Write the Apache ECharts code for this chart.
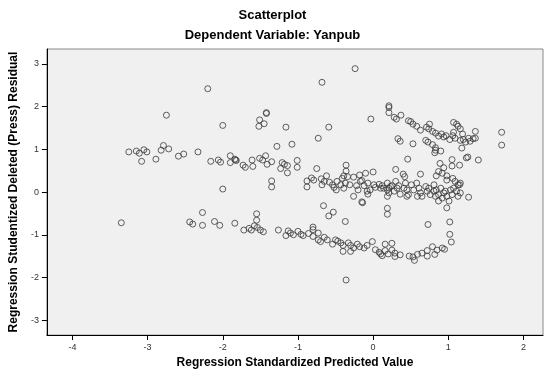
<!DOCTYPE html>
<html lang="en">
<head>
    <meta charset="UTF-8">
    <title>Scatterplot</title>
    <script src="https://cdn.jsdelivr.net/npm/echarts@6/dist/echarts.min.js"></script>
    <style>
        html, body { margin: 0; padding: 0; background: #fff; }
        #box { width: 545px; height: 374px; }
    </style>
</head>
<body>
    <div id="box"></div>
    <script>
        // tick values of both axes
        var xTicks = [-4, -3, -2, -1, 0, 1, 2];
        var yTicks = [-3, -2, -1, 0, 1, 2, 3];

        // points: [predicted, residual]
        var upperSparse = [
            [-0.24, 2.89], [-0.68, 2.57], [-2.20, 2.42], [-2.75, 1.80], [-1.42, 1.86], [-1.42, 1.84],
            [-1.51, 1.69], [-1.45, 1.60], [-1.52, 1.54], [-2.00, 1.56], [-1.16, 1.52], [-0.59, 1.52],
            [-0.03, 1.71], [-0.73, 1.26], [-1.28, 1.07], [-1.08, 1.12]
        ];
        var leftCluster = [
            [-3.25, 0.94], [-3.15, 0.96], [-3.11, 0.91], [-3.05, 0.99], [-3.01, 0.94], [-3.08, 0.72],
            [-2.89, 0.77], [-2.82, 0.98], [-2.79, 1.09], [-2.72, 1.01], [-2.59, 0.84], [-2.52, 0.89],
            [-2.33, 0.94], [-2.16, 0.72], [-2.06, 0.75], [-2.03, 0.70]
        ];
        var upperBand = [
            [-1.90, 0.85], [-1.90, 0.69], [-1.84, 0.77], [-1.83, 0.75], [-1.82, 0.74], [-1.73, 0.63],
            [-1.70, 0.58], [-1.60, 0.60], [-1.61, 0.75], [-1.51, 0.79], [-1.47, 0.75], [-1.43, 0.85],
            [-1.41, 0.65], [-1.35, 0.71], [-1.21, 0.69], [-1.23, 0.55], [-1.18, 0.65], [-1.14, 0.62],
            [-1.14, 0.45], [-1.01, 0.74], [-1.01, 0.58], [-2.00, 0.07], [-1.35, 0.26], [-1.35, 0.12],
            [-0.75, 0.55], [-0.36, 0.63], [-0.36, 0.49], [-0.88, 0.26], [-0.88, 0.12], [-0.10, 0.44],
            [0.00, 0.47], [-0.62, 0.38], [-0.39, 0.38]
        ];
        var zeroBand = [
            [-0.82, 0.33], [-0.79, 0.28], [-0.69, 0.31], [-0.68, 0.17], [-0.65, 0.25], [-0.58, 0.23],
            [-0.54, 0.17], [-0.52, 0.11], [-0.49, 0.05], [-0.48, 0.25], [-0.43, 0.17], [-0.41, 0.32],
            [-0.39, 0.09], [-0.37, 0.21], [-0.34, 0.36], [-0.31, 0.17], [-0.26, 0.35], [-0.26, -0.10],
            [-0.22, 0.15], [-0.20, 0.05], [-0.18, 0.40], [-0.17, 0.25], [-0.15, 0.27], [-0.12, 0.15],
            [-0.07, 0.21], [-0.04, 0.05], [-0.07, -0.05], [-0.08, 0.02], [0.01, 0.17], [0.03, 0.11],
            [0.08, 0.18], [0.10, 0.09], [0.12, 0.15], [0.19, 0.05], [0.19, -0.10], [0.23, 0.13],
            [-0.15, -0.23], [0.14, 0.09], [0.19, 0.21], [0.21, 0.09], [0.21, -0.02], [0.25, 0.15],
            [0.28, 0.02], [0.30, 0.25], [0.32, 0.09], [0.34, 0.15], [0.36, -0.05], [0.41, 0.09],
            [0.43, 0.21], [0.45, 0.05], [0.45, -0.10], [0.47, -0.06], [0.51, 0.17], [0.54, 0.05],
            [0.58, 0.21], [0.59, -0.10], [0.61, 0.09], [0.63, -0.02], [0.65, -0.10], [0.70, 0.13],
            [0.72, 0.02], [0.74, 0.09], [0.76, -0.06], [0.81, 0.17], [0.81, 0.02], [0.83, -0.10],
            [0.84, 0.05], [0.87, -0.06], [0.87, -0.21], [0.90, 0.09], [0.92, -0.14], [0.94, -0.02],
            [0.96, 0.02], [0.98, -0.10], [1.01, -0.21], [1.03, 0.05], [1.05, -0.06], [1.07, 0.09],
            [1.11, 0.02], [1.13, -0.10], [1.15, 0.17], [1.16, -0.02], [1.27, -0.12]
        ];
        var rightBand = [
            [0.21, 2.02], [0.21, 1.86], [0.21, 1.98], [0.28, 1.75], [0.31, 1.71], [0.37, 1.80],
            [0.47, 1.67], [0.50, 1.65], [0.53, 1.59], [0.58, 1.54], [0.63, 1.45], [0.71, 1.52],
            [0.75, 1.59], [0.74, 1.48], [0.79, 1.42], [0.83, 1.38], [0.87, 1.31], [0.91, 1.36],
            [0.94, 1.29], [0.97, 1.32], [1.02, 1.23], [1.07, 1.63], [1.11, 1.59], [1.13, 1.54],
            [1.07, 1.40], [1.06, 1.32], [1.09, 1.26], [1.16, 1.48], [1.19, 1.36], [1.16, 1.21],
            [1.20, 1.23], [1.23, 1.17], [1.27, 1.26], [1.29, 1.19], [1.33, 1.25], [1.36, 1.42],
            [1.36, 1.26], [1.18, 1.03], [1.24, 0.80], [1.26, 0.82], [1.40, 0.75], [1.71, 1.40],
            [1.71, 1.10], [0.33, 1.25], [0.36, 1.19], [0.53, 1.13], [0.70, 1.21], [0.73, 1.17],
            [0.79, 1.11], [0.83, 1.04], [0.82, 0.92], [0.83, 0.98], [0.90, 0.96], [0.46, 0.77],
            [0.30, 0.53], [0.40, 0.42], [0.42, 0.36], [0.63, 0.42], [1.05, 0.76], [1.05, 0.61],
            [1.15, 0.63], [0.89, 0.67], [0.94, 0.57], [0.87, 0.48], [0.84, 0.38], [0.92, 0.44],
            [0.98, 0.38], [0.98, 0.28], [1.06, 0.32], [1.09, 0.25], [1.13, 0.17], [1.16, 0.21]
        ];
        var lowerLeft = [
            [-3.35, -0.72], [-2.44, -0.70], [-2.40, -0.75], [-2.27, -0.48], [-2.27, -0.78], [-2.11, -0.69],
            [-2.04, -0.78], [-1.84, -0.73], [-1.72, -0.89], [-1.65, -0.85], [-1.62, -0.89], [-1.58, -0.79],
            [-1.55, -0.51], [-1.55, -0.66], [-1.54, -0.83], [-1.50, -0.89], [-1.46, -0.93], [-1.26, -0.89]
        ];
        var lowerBand = [
            [-1.16, -1.02], [-1.13, -0.91], [-1.10, -0.96], [-1.06, -1.00], [-1.00, -0.92], [-0.96, -0.99],
            [-0.93, -1.02], [-0.86, -0.97], [-0.80, -0.88], [-0.80, -1.04], [-0.73, -0.96], [-0.73, -1.12],
            [-0.70, -1.16], [-0.65, -1.06], [-0.61, -1.12], [-0.54, -1.22], [-0.50, -1.12], [-0.47, -1.15],
            [-0.43, -1.19], [-0.40, -1.25], [-0.40, -1.39], [-0.33, -1.19], [-0.30, -1.25], [-0.30, -1.39],
            [-0.26, -1.31], [-0.21, -1.22], [-0.18, -1.28], [-0.12, -1.31], [-0.08, -1.25], [-0.01, -1.16],
            [0.03, -1.35], [0.08, -1.41], [0.10, -1.45], [0.12, -1.49], [0.16, -1.22], [0.16, -1.37],
            [0.20, -1.45], [0.25, -1.20], [0.25, -1.36], [0.29, -1.51], [0.29, -1.43], [0.36, -1.47],
            [0.48, -1.50], [0.53, -1.52], [0.55, -1.60], [0.59, -1.46], [0.65, -1.43], [0.72, -1.50],
            [0.72, -1.37], [0.79, -1.28], [0.82, -1.46], [0.85, -1.36], [0.92, -1.31], [0.95, -1.34],
            [0.73, -0.76], [0.98, -0.37], [1.02, -0.70], [1.02, -0.99], [1.04, -1.17], [-0.36, -2.06]
        ];
        var midLower = [
            [-0.66, -0.32], [-0.53, -0.47], [-0.59, -0.56], [-0.37, -0.69], [0.19, -0.38], [0.19, -0.52],
            [-0.80, -0.82], [-0.14, -0.25]
        ];

        var allPoints = [].concat(upperSparse, leftCluster, upperBand, zeroBand,
            rightBand, lowerLeft, lowerBand, midLower);

        var myChart = echarts.init(document.getElementById('box'));
        var font = '"Liberation Sans", Arial, sans-serif';
        var option = {
            backgroundColor: '#ffffff',
            animation: false,
            title: [
                {
                    text: 'Scatterplot',
                    left: 'center',
                    top: 4,
                    textStyle: { fontFamily: font, fontSize: 13, fontWeight: 'bold', color: '#000' }
                },
                {
                    text: 'Dependent Variable: Yanpub',
                    left: 'center',
                    top: 24,
                    textStyle: { fontFamily: font, fontSize: 13, fontWeight: 'bold', color: '#000' }
                }
            ],
            grid: {
                left: 46,
                right: 2,
                top: 49,
                bottom: 35,
                show: true,
                backgroundColor: '#f0f0f0',
                borderColor: '#8a8a8a',
                borderWidth: 1
            },
            xAxis: {
                type: 'value',
                min: -4.34,
                max: 2.26,
                name: 'Regression Standardized Predicted Value',
                nameLocation: 'middle',
                nameGap: 20,
                nameTextStyle: { fontFamily: font, fontSize: 12, fontWeight: 'bold', color: '#000' },
                splitLine: { show: false },
                axisLine: { show: true, onZero: false, lineStyle: { color: '#000', width: 1 } },
                axisTick: { show: true, length: 5, customValues: xTicks, lineStyle: { color: '#000' } },
                axisLabel: { customValues: xTicks, margin: 8, fontFamily: font, fontSize: 9, color: '#333' }
            },
            yAxis: {
                type: 'value',
                min: -3.35,
                max: 3.35,
                name: 'Regression Studentized Deleted (Press) Residual',
                nameLocation: 'middle',
                nameGap: 23,
                nameTextStyle: { fontFamily: font, fontSize: 12, fontWeight: 'bold', color: '#000' },
                splitLine: { show: false },
                axisLine: { show: true, onZero: false, lineStyle: { color: '#000', width: 1 } },
                axisTick: { show: true, length: 5, customValues: yTicks, lineStyle: { color: '#000' } },
                axisLabel: { customValues: yTicks, margin: 8, fontFamily: font, fontSize: 9, color: '#333' }
            },
            series: [
                {
                    type: 'scatter',
                    symbol: 'circle',
                    symbolSize: 6,
                    data: allPoints,
                    itemStyle: {
                        color: 'transparent',
                        borderColor: '#3a3a3a',
                        borderWidth: 1
                    }
                }
            ]
        };

        myChart.setOption(option);
    </script>
</body>
</html>
